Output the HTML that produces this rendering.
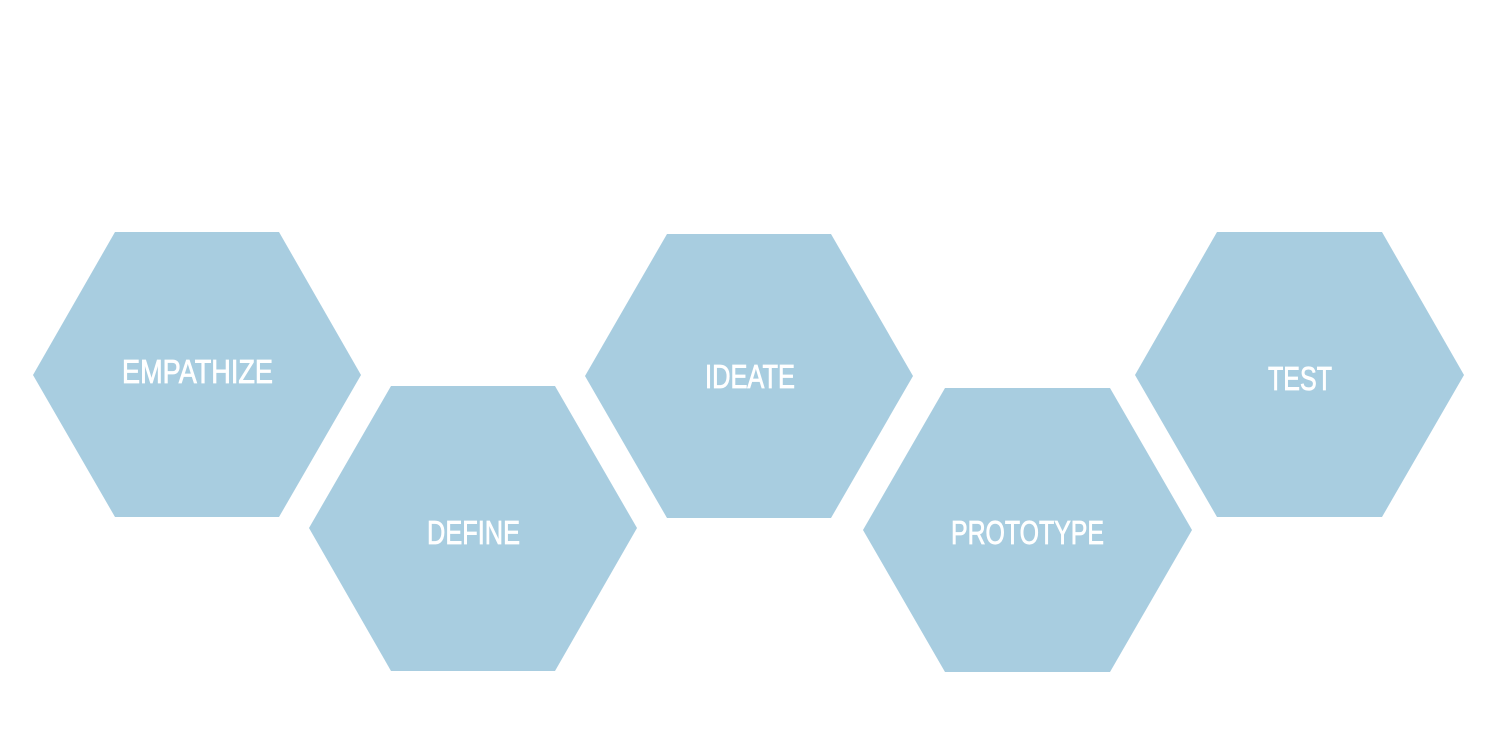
<!DOCTYPE html>
<html><head><meta charset="utf-8"><style>html,body{margin:0;padding:0;background:#fff;width:1500px;height:750px;overflow:hidden}</style></head>
<body>
<svg width="1500" height="750" viewBox="0 0 1500 750" xmlns="http://www.w3.org/2000/svg">
<g fill="#a8cde0">
<polygon points="115,232 279,232 361,375 279,517 115,517 33,375"/>
<polygon points="391,386 555,386 637,528 555,671 391,671 309,528"/>
<polygon points="667,234 831,234 913,376 831,518 667,518 585,376"/>
<polygon points="945,388 1110,388 1192,530 1110,672 945,672 863,530"/>
<polygon points="1217,232 1382,232 1464,375 1382,517 1217,517 1135,375"/>
</g>
<g fill="#fff" stroke="#fff" stroke-width="0.8" font-family="Liberation Sans, DejaVu Sans, sans-serif" font-size="33">
<text x="122" y="383" textLength="151" lengthAdjust="spacingAndGlyphs">EMPATHIZE</text>
<text x="427" y="544" textLength="93" lengthAdjust="spacingAndGlyphs">DEFINE</text>
<text x="705" y="388" textLength="90" lengthAdjust="spacingAndGlyphs">IDEATE</text>
<text x="951" y="544" textLength="153" lengthAdjust="spacingAndGlyphs">PROTOTYPE</text>
<text x="1268" y="390" textLength="64" lengthAdjust="spacingAndGlyphs">TEST</text>
</g>
</svg>
</body></html>
